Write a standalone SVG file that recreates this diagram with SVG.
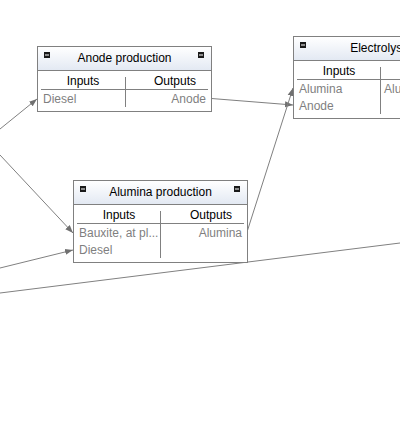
<svg xmlns="http://www.w3.org/2000/svg" width="400" height="421" viewBox="0 0 400 421">
<defs>
<linearGradient id="hdr" x1="0" y1="0" x2="0" y2="1">
<stop offset="0" stop-color="#ffffff"/>
<stop offset="1" stop-color="#e3e9f3"/>
</linearGradient>
<marker id="arr" viewBox="0 0 8 8" refX="8" refY="4" markerWidth="8" markerHeight="8" markerUnits="userSpaceOnUse" orient="auto">
<path d="M0,1 L8,4 L0,7 Z" fill="#707070"/>
</marker>
<g id="icon"><rect x="0" y="0" width="6" height="6" fill="#1a1a1a"/><rect x="1" y="2.5" width="4" height="1" fill="#ffffff"/></g>
</defs>
<style>
.box{fill:#ffffff;stroke:#808080;stroke-width:1}
.hd{fill:url(#hdr)}
.sep{stroke:#808080;stroke-width:1;fill:none}
.title{font-family:"Liberation Sans",Arial,sans-serif;font-size:12px;fill:#000000;text-anchor:middle}
.col{font-family:"Liberation Sans",Arial,sans-serif;font-size:12px;fill:#000000;text-anchor:middle}
.item{font-family:"Liberation Sans",Arial,sans-serif;font-size:12px;fill:#7f7f7f}
.out{text-anchor:end}
.conn{stroke:#808080;stroke-width:1;fill:none}
</style>
<rect width="400" height="421" fill="#ffffff"/>
<g id="connectors">
<line class="conn" x1="0" y1="129" x2="37" y2="99" marker-end="url(#arr)"/>
<line class="conn" x1="0" y1="155" x2="73" y2="233" marker-end="url(#arr)"/>
<line class="conn" x1="0" y1="268" x2="73" y2="250" marker-end="url(#arr)"/>
<line class="conn" x1="0" y1="293" x2="400" y2="243"/>
<line class="conn" x1="211.5" y1="98.5" x2="293" y2="105" marker-end="url(#arr)"/>
<line class="conn" x1="247" y1="232" x2="293" y2="88" marker-end="url(#arr)"/>
</g>
<g id="anode-production">
<rect class="box" x="37.5" y="46.5" width="174" height="65"/>
<rect class="hd" x="38" y="47" width="173" height="23"/>
<line class="sep" x1="38" y1="70.5" x2="211" y2="70.5"/>
<use href="#icon" x="44" y="52"/>
<use href="#icon" x="198" y="52"/>
<text class="title" x="124.5" y="62">Anode production</text>
<line class="sep" x1="41" y1="89.5" x2="208" y2="89.5"/>
<line class="sep" x1="125.5" y1="77" x2="125.5" y2="107"/>
<text class="col" x="83" y="85">Inputs</text>
<text class="col" x="175" y="85">Outputs</text>
<text class="item" x="43" y="103">Diesel</text>
<text class="item out" x="206" y="103">Anode</text>
</g>
<g id="alumina-production">
<rect class="box" x="73.5" y="180.5" width="174" height="82"/>
<rect class="hd" x="74" y="181" width="173" height="23"/>
<line class="sep" x1="74" y1="204.5" x2="247" y2="204.5"/>
<use href="#icon" x="80" y="186"/>
<use href="#icon" x="234" y="186"/>
<text class="title" x="160.5" y="196">Alumina production</text>
<line class="sep" x1="77" y1="223.5" x2="244" y2="223.5"/>
<line class="sep" x1="160.5" y1="211" x2="160.5" y2="258"/>
<text class="col" x="119" y="219">Inputs</text>
<text class="col" x="211" y="219">Outputs</text>
<text class="item" x="79" y="237">Bauxite, at pl...</text>
<text class="item" x="79" y="254">Diesel</text>
<text class="item out" x="242" y="237">Alumina</text>
</g>
<g id="electrolysis">
<rect class="box" x="293.5" y="36.5" width="174" height="82"/>
<rect class="hd" x="294" y="37" width="173" height="23"/>
<line class="sep" x1="294" y1="60.5" x2="467" y2="60.5"/>
<use href="#icon" x="300" y="42"/>
<text class="title" x="380.5" y="52">Electrolysis</text>
<line class="sep" x1="297" y1="79.5" x2="464" y2="79.5"/>
<line class="sep" x1="380.5" y1="67" x2="380.5" y2="114"/>
<text class="col" x="339" y="75">Inputs</text>
<text class="item" x="299" y="93">Alumina</text>
<text class="item" x="299" y="110">Anode</text>
<text class="item" x="384" y="93">Alumina</text>
</g>
</svg>
